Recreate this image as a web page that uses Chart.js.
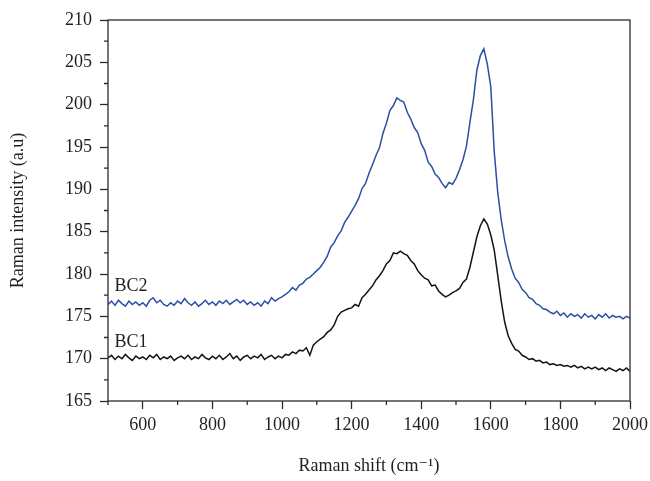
<!DOCTYPE html>
<html>
<head>
<meta charset="utf-8">
<title>Raman spectra BC1 / BC2</title>
<script src="https://cdn.jsdelivr.net/npm/chart.js@4/dist/chart.umd.min.js"></script>
<style>
  html, body { margin: 0; padding: 0; background: #fff; }
  #ramanChart { display: block; }
</style>
</head>
<body>
<canvas id="ramanChart" width="650" height="481"></canvas>
<script>
// Raman shift grid (cm-1), one reading every 10 cm-1 from 500 to 2000
const shiftStart = 500;
const shiftStep = 10;

const seriesNames = ['BC2', 'BC1'];

// BC2 intensity (a.u)
const bc2Values = [
  176.4, 176.8, 176.3, 176.9, 176.5, 176.2, 176.8, 176.4, 176.7, 176.3,
  176.6, 176.2, 176.9, 177.2, 176.6, 176.9, 176.4, 176.2, 176.6, 176.3,
  176.8, 176.5, 177.1, 176.6, 176.3, 176.7, 176.2, 176.5, 176.9, 176.4,
  176.7, 176.3, 176.8, 176.5, 176.9, 176.4, 176.7, 177.0, 176.6, 176.9,
  176.4, 176.7, 176.3, 176.6, 176.2, 176.8, 176.5, 177.2, 176.8, 177.1,
  177.3, 177.6, 177.9, 178.4, 178.1, 178.7, 178.9, 179.4, 179.6, 180.0,
  180.4, 180.8, 181.4, 182.1, 183.2, 183.7, 184.5, 185.1, 186.1, 186.7,
  187.4, 188.1, 188.9, 190.1, 190.7, 191.9, 192.9, 194.0, 194.9, 196.6,
  197.8, 199.3, 199.9, 200.8, 200.5, 200.3, 199.1, 198.3, 197.3, 196.7,
  195.4, 194.6, 193.2, 192.7, 191.8, 191.4, 190.7, 190.2, 190.8, 190.6,
  191.3, 192.3, 193.5, 195.1, 197.9, 200.6, 204.1, 205.8, 206.6, 204.8,
  202.1, 194.4, 189.6, 186.4, 183.9, 182.0, 180.6, 179.5, 179.0, 178.2,
  177.8, 177.2, 177.0, 176.5, 176.3, 175.9, 175.8, 175.5, 175.3, 175.6,
  175.1, 175.4, 174.9, 175.3, 175.0, 175.2, 174.8, 175.3, 174.9, 175.1,
  174.7, 175.2, 174.9, 175.3, 174.8, 175.1, 174.9, 175.0, 174.7, 175.0,
  174.8
];

// BC1 intensity (a.u)
const bc1Values = [
  170.1, 170.4, 169.9, 170.3, 170.0, 170.5, 170.1, 169.8, 170.3, 170.0,
  170.2, 169.9, 170.4, 170.1, 170.5, 169.9, 170.2, 170.0, 170.3, 169.8,
  170.1, 170.3, 170.0, 170.4, 169.9, 170.2, 170.0, 170.5, 170.1, 169.9,
  170.3, 170.0, 170.4, 169.9, 170.2, 170.6, 170.0, 170.3, 169.8, 170.2,
  170.4, 170.0, 170.3, 170.1, 170.5, 169.9, 170.2, 170.4, 170.0, 170.3,
  170.1, 170.5, 170.4, 170.8, 170.6, 171.0, 170.9, 171.3, 170.4, 171.6,
  172.0, 172.3, 172.6, 173.1, 173.4, 174.0, 175.0, 175.5, 175.7, 175.9,
  176.0, 176.4, 176.2, 177.2, 177.6, 178.1, 178.6, 179.3, 179.8, 180.4,
  181.2, 181.6, 182.5, 182.4, 182.7, 182.4, 182.2, 181.6, 181.2, 180.4,
  179.9, 179.5, 179.3, 178.6, 178.7, 178.0, 177.6, 177.3, 177.5, 177.8,
  178.0, 178.3, 179.0, 179.4, 180.8, 182.6, 184.4, 185.7, 186.5, 185.9,
  184.6, 182.8, 179.8, 176.8, 174.3, 172.7, 171.8, 171.1, 170.9, 170.4,
  170.2, 169.9, 170.0, 169.7, 169.8, 169.5, 169.6, 169.3, 169.4, 169.2,
  169.3, 169.1, 169.2, 169.0, 169.2, 168.9, 169.1, 168.8, 169.0, 168.8,
  169.0, 168.7, 168.9, 168.6, 168.9, 168.7, 168.5, 168.8, 168.6, 168.9,
  168.5
];

// unlabeled minor ticks
const xMinorTicks = [500, 700, 900, 1100, 1300, 1500, 1700, 1900];
const yMinorTicks = [167.5, 172.5, 177.5, 182.5, 187.5, 192.5, 197.5, 202.5, 207.5];

const textColor = '#231f20';
const axisColor = '#2b2b2b';
const fontFamily = '"Liberation Serif", "DejaVu Serif", serif';

function toPoints(values) {
  return values.map((v, i) => ({ x: shiftStart + i * shiftStep, y: v }));
}

// frame, minor ticks and the series names next to the curves
const frameAndLabels = {
  id: 'frameAndLabels',
  afterDraw(chart, args, opts) {
    const { ctx, chartArea, scales } = chart;
    ctx.save();
    ctx.strokeStyle = axisColor;
    ctx.lineWidth = 1.3;
    ctx.beginPath();
    xMinorTicks.forEach((v) => {
      const px = scales.x.getPixelForValue(v);
      ctx.moveTo(px, chartArea.bottom);
      ctx.lineTo(px, chartArea.bottom + 4);
    });
    yMinorTicks.forEach((v) => {
      const py = scales.y.getPixelForValue(v);
      ctx.moveTo(chartArea.left, py);
      ctx.lineTo(chartArea.left - 4, py);
    });
    ctx.stroke();
    ctx.strokeRect(chartArea.left, chartArea.top,
      chartArea.right - chartArea.left, chartArea.bottom - chartArea.top);

    ctx.fillStyle = textColor;
    ctx.font = '18px ' + fontFamily;
    ctx.textAlign = 'left';
    ctx.textBaseline = 'middle';
    opts.labels.forEach((lab) => {
      ctx.fillText(lab.text, scales.x.getPixelForValue(lab.x), scales.y.getPixelForValue(lab.y));
    });
    ctx.restore();
  },
};

function paintRamanChart() {
  const context = document.getElementById('ramanChart').getContext('2d');
  new Chart(context, {
    type: 'line',
    data: {
      datasets: [
        {
          label: seriesNames[0],
          data: toPoints(bc2Values),
          borderColor: '#2c4fa6',
          borderWidth: 1.5,
          pointRadius: 0,
          tension: 0,
        },
        {
          label: seriesNames[1],
          data: toPoints(bc1Values),
          borderColor: '#141414',
          borderWidth: 1.5,
          pointRadius: 0,
          tension: 0,
        },
      ],
    },
    options: {
      responsive: false,
      animation: false,
      devicePixelRatio: 1,
      layout: { padding: { top: 20, right: 20, left: 0, bottom: 0 } },
      plugins: {
        legend: { display: false },
        tooltip: { enabled: false },
        frameAndLabels: {
          labels: [
            { text: seriesNames[0], x: 519, y: 178.6 },
            { text: seriesNames[1], x: 519, y: 171.9 },
          ],
        },
      },
      scales: {
        x: {
          type: 'linear',
          min: 500,
          max: 2000,
          afterFit: (scale) => {
            scale.height = 80;
            scale.paddingLeft = 0;
            scale.paddingRight = 0;
          },
          border: { display: false },
          grid: { drawOnChartArea: false, tickLength: 8, tickColor: axisColor, tickWidth: 1.3 },
          ticks: {
            stepSize: 200,
            includeBounds: false,
            maxRotation: 0,
            padding: 5,
            color: textColor,
            font: { family: fontFamily, size: 18 },
            callback: (value) => String(value),
          },
          title: {
            display: true,
            text: 'Raman shift (cm\u207B\u00B9)',
            color: textColor,
            font: { family: fontFamily, size: 18 },
            padding: { top: 0, bottom: 4 },
          },
        },
        y: {
          min: 165,
          max: 210,
          afterFit: (scale) => {
            scale.width = 108;
            scale.paddingTop = 0;
            scale.paddingBottom = 0;
          },
          border: { display: false },
          grid: { drawOnChartArea: false, tickLength: 8, tickColor: axisColor, tickWidth: 1.3 },
          ticks: {
            stepSize: 5,
            padding: 8,
            color: textColor,
            font: { family: fontFamily, size: 18 },
            callback: (value) => String(value),
          },
          title: {
            display: true,
            text: 'Raman intensity (a.u)',
            color: textColor,
            font: { family: fontFamily, size: 18 },
            padding: { top: 7, bottom: 0 },
          },
        },
      },
    },
    plugins: [frameAndLabels],
  });
}

document.addEventListener('DOMContentLoaded', function () {
  paintRamanChart();
});
</script>
</body>
</html>
